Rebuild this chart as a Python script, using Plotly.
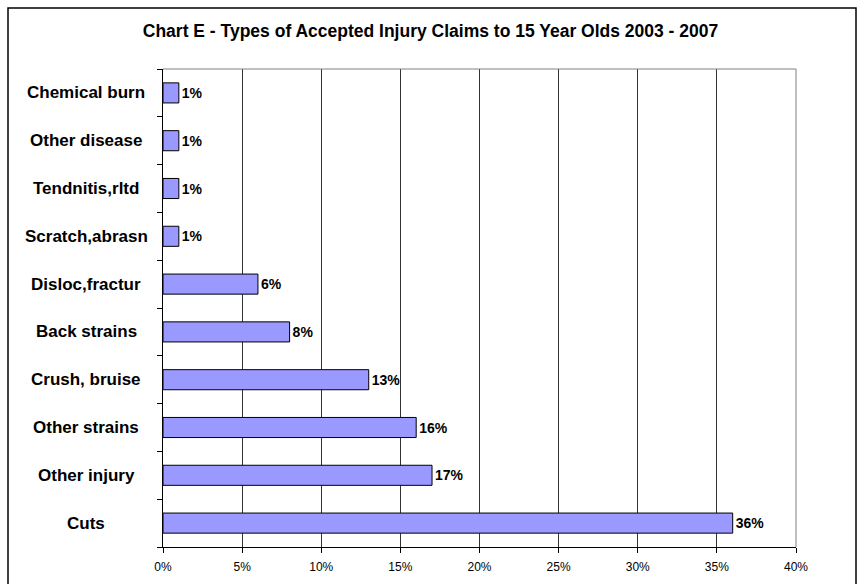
import plotly.graph_objects as go

categories = ["Cuts", "Other injury", "Other strains", "Crush, bruise", "Back strains",
              "Disloc,fractur", "Scratch,abrasn", "Tendnitis,rltd", "Other disease", "Chemical burn"]
values = [36, 17, 16, 13, 8, 6, 1, 1, 1, 1]
x_ticks = [0, 5, 10, 15, 20, 25, 30, 35, 40]
x_tick_labels = ["0%", "5%", "10%", "15%", "20%", "25%", "30%", "35%", "40%"]

W, H = 864, 584
L, R, T, B = 163, 68, 69, 37
pw, ph = W - L - R, H - T - B

def px_x(p):
    return (p - L) / pw

def px_y(p):
    return (H - B - p) / ph

font = "Liberation Sans, Arial, sans-serif"

fig = go.Figure()
fig.add_trace(go.Bar(
    y=categories, x=values, orientation="h",
    marker=dict(color="#9999FF", line=dict(color="black", width=1)),
    width=0.42,
    text=[f"{v}%" for v in values], textposition="outside",
    textfont=dict(family=font, size=14, color="black", weight="bold"),
    cliponaxis=False, hoverinfo="skip",
))

annotations = []
for c in categories:
    annotations.append(dict(
        x=px_x(86), xref="paper", y=c, yref="y", text=f"<b>{c}</b>",
        showarrow=False, xanchor="center", yanchor="middle",
        font=dict(family=font, size=17, color="black")))

shapes = [
    # outer chart border
    dict(type="rect", xref="paper", yref="paper", x0=px_x(8), x1=px_x(856),
         y0=px_y(8), y1=px_y(700), line=dict(color="black", width=1.5), layer="above"),
    # plot area top and right border (gray)
    dict(type="line", xref="paper", yref="paper", x0=0, x1=1, y0=1, y1=1,
         line=dict(color="#808080", width=1), layer="above"),
    dict(type="line", xref="paper", yref="paper", x0=1, x1=1, y0=0, y1=1,
         line=dict(color="#808080", width=1), layer="above"),
]

fig.update_layout(
    width=W, height=H, margin=dict(l=L, r=R, t=T, b=B, autoexpand=False),
    paper_bgcolor="white", plot_bgcolor="white",
    showlegend=False,
    title=dict(text="<b>Chart E - Types of Accepted Injury Claims to 15 Year Olds 2003 - 2007</b>",
               x=430.5 / W, xref="container", xanchor="center",
               y=1 - 31 / H, yref="container", yanchor="middle",
               font=dict(family=font, size=17.5, color="black")),
    xaxis=dict(range=[0, 40], tickmode="array", tickvals=x_ticks, ticktext=x_tick_labels,
               showgrid=True, gridcolor="#333333", gridwidth=1, showline=True,
               linecolor="black", linewidth=1, ticklabelstandoff=4,
               ticks="outside", ticklen=5, tickcolor="black", zeroline=False,
               tickfont=dict(family=font, size=12, color="black"), fixedrange=True),
    yaxis=dict(categoryorder="array", categoryarray=categories, showticklabels=False,
               showline=True, linecolor="black", linewidth=1, ticks="outside", ticklen=5,
               tickcolor="black", tickson="boundaries", showgrid=False, fixedrange=True,
               range=[-0.5, len(categories) - 0.5]),
    annotations=annotations, shapes=shapes,
)

fig.write_html("out.html")
